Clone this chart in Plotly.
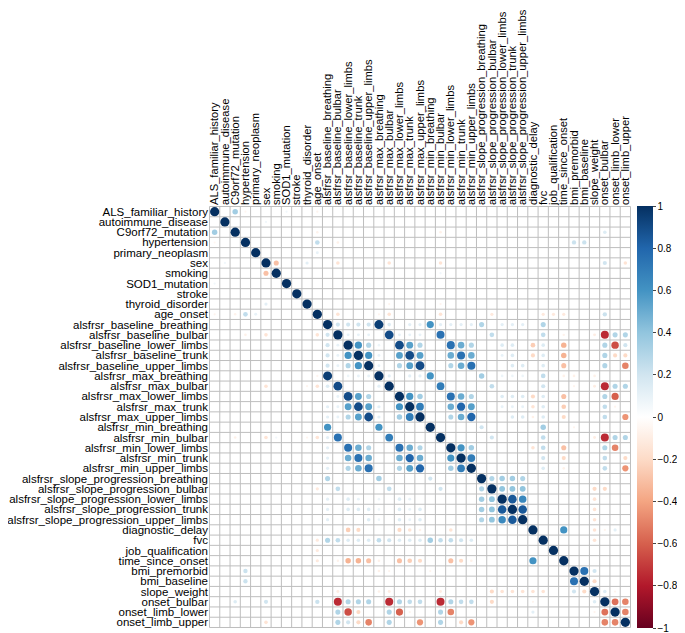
import numpy as np
import plotly.graph_objects as go

# Variables in the order they appear on both axes
VARIABLES = [
    "ALS_familiar_history", "autoimmune_disease", "C9orf72_mutation", "hypertension",
    "primary_neoplasm", "sex", "smoking", "SOD1_mutation", "stroke", "thyroid_disorder",
    "age_onset", "alsfrsr_baseline_breathing", "alsfrsr_baseline_bulbar",
    "alsfrsr_baseline_lower_limbs", "alsfrsr_baseline_trunk", "alsfrsr_baseline_upper_limbs",
    "alsfrsr_max_breathing", "alsfrsr_max_bulbar", "alsfrsr_max_lower_limbs",
    "alsfrsr_max_trunk", "alsfrsr_max_upper_limbs", "alsfrsr_min_breathing",
    "alsfrsr_min_bulbar", "alsfrsr_min_lower_limbs", "alsfrsr_min_trunk",
    "alsfrsr_min_upper_limbs", "alsfrsr_slope_progression_breathing",
    "alsfrsr_slope_progression_bulbar", "alsfrsr_slope_progression_lower_limbs",
    "alsfrsr_slope_progression_trunk", "alsfrsr_slope_progression_upper_limbs",
    "diagnostic_delay", "fvc", "job_qualification", "time_since_onset", "bmi_premorbid",
    "bmi_baseline", "slope_weight", "onset_bulbar", "onset_limb_lower", "onset_limb_upper",
]

# Off-diagonal correlations (everything else ~0, diagonal = 1)
CORR_PAIRS = [
    ("ALS_familiar_history", "C9orf72_mutation", 0.35),
    ("ALS_familiar_history", "hypertension", -0.05),
    ("ALS_familiar_history", "SOD1_mutation", 0.06),
    ("ALS_familiar_history", "age_onset", -0.06),
    ("autoimmune_disease", "sex", 0.06),
    ("C9orf72_mutation", "age_onset", -0.07),
    ("C9orf72_mutation", "alsfrsr_min_bulbar", -0.08),
    ("C9orf72_mutation", "onset_bulbar", 0.15),
    ("hypertension", "age_onset", 0.25),
    ("hypertension", "alsfrsr_baseline_bulbar", -0.08),
    ("hypertension", "bmi_premorbid", 0.22),
    ("hypertension", "bmi_baseline", 0.22),
    ("primary_neoplasm", "age_onset", 0.1),
    ("sex", "smoking", -0.3),
    ("sex", "thyroid_disorder", 0.12),
    ("sex", "alsfrsr_baseline_bulbar", -0.15),
    ("sex", "alsfrsr_max_bulbar", -0.15),
    ("sex", "alsfrsr_min_bulbar", -0.15),
    ("sex", "onset_bulbar", 0.2),
    ("sex", "onset_limb_upper", -0.15),
    ("smoking", "alsfrsr_min_bulbar", 0.06),
    ("thyroid_disorder", "alsfrsr_max_bulbar", -0.06),
    ("thyroid_disorder", "alsfrsr_min_bulbar", -0.06),
    ("age_onset", "alsfrsr_baseline_bulbar", -0.15),
    ("age_onset", "alsfrsr_max_breathing", -0.06),
    ("age_onset", "alsfrsr_max_bulbar", -0.15),
    ("age_onset", "alsfrsr_min_bulbar", -0.15),
    ("age_onset", "alsfrsr_slope_progression_bulbar", -0.12),
    ("age_onset", "fvc", -0.12),
    ("age_onset", "job_qualification", -0.12),
    ("age_onset", "time_since_onset", -0.12),
    ("age_onset", "onset_bulbar", 0.22),
    ("alsfrsr_baseline_breathing", "alsfrsr_baseline_bulbar", 0.2),
    ("alsfrsr_baseline_breathing", "alsfrsr_baseline_lower_limbs", 0.2),
    ("alsfrsr_baseline_breathing", "alsfrsr_baseline_trunk", 0.2),
    ("alsfrsr_baseline_breathing", "alsfrsr_baseline_upper_limbs", 0.2),
    ("alsfrsr_baseline_breathing", "alsfrsr_max_breathing", 0.95),
    ("alsfrsr_baseline_breathing", "alsfrsr_max_bulbar", 0.15),
    ("alsfrsr_baseline_breathing", "alsfrsr_max_trunk", 0.12),
    ("alsfrsr_baseline_breathing", "alsfrsr_max_upper_limbs", 0.12),
    ("alsfrsr_baseline_breathing", "alsfrsr_min_breathing", 0.6),
    ("alsfrsr_baseline_breathing", "alsfrsr_min_bulbar", 0.12),
    ("alsfrsr_baseline_breathing", "alsfrsr_min_lower_limbs", 0.12),
    ("alsfrsr_baseline_breathing", "alsfrsr_min_trunk", 0.12),
    ("alsfrsr_baseline_breathing", "alsfrsr_min_upper_limbs", 0.12),
    ("alsfrsr_baseline_breathing", "alsfrsr_slope_progression_breathing", 0.3),
    ("alsfrsr_baseline_breathing", "alsfrsr_slope_progression_lower_limbs", 0.12),
    ("alsfrsr_baseline_breathing", "alsfrsr_slope_progression_trunk", 0.12),
    ("alsfrsr_baseline_breathing", "alsfrsr_slope_progression_upper_limbs", 0.12),
    ("alsfrsr_baseline_breathing", "fvc", 0.3),
    ("alsfrsr_baseline_bulbar", "alsfrsr_baseline_lower_limbs", 0.1),
    ("alsfrsr_baseline_bulbar", "alsfrsr_baseline_trunk", 0.1),
    ("alsfrsr_baseline_bulbar", "alsfrsr_baseline_upper_limbs", 0.1),
    ("alsfrsr_baseline_bulbar", "alsfrsr_max_bulbar", 0.9),
    ("alsfrsr_baseline_bulbar", "alsfrsr_max_lower_limbs", 0.1),
    ("alsfrsr_baseline_bulbar", "alsfrsr_max_trunk", 0.1),
    ("alsfrsr_baseline_bulbar", "alsfrsr_max_upper_limbs", 0.1),
    ("alsfrsr_baseline_bulbar", "alsfrsr_min_bulbar", 0.75),
    ("alsfrsr_baseline_bulbar", "alsfrsr_slope_progression_bulbar", 0.25),
    ("alsfrsr_baseline_bulbar", "fvc", 0.25),
    ("alsfrsr_baseline_bulbar", "time_since_onset", -0.07),
    ("alsfrsr_baseline_bulbar", "slope_weight", -0.1),
    ("alsfrsr_baseline_bulbar", "onset_bulbar", -0.75),
    ("alsfrsr_baseline_bulbar", "onset_limb_lower", 0.3),
    ("alsfrsr_baseline_bulbar", "onset_limb_upper", 0.3),
    ("alsfrsr_baseline_lower_limbs", "alsfrsr_baseline_trunk", 0.6),
    ("alsfrsr_baseline_lower_limbs", "alsfrsr_baseline_upper_limbs", 0.3),
    ("alsfrsr_baseline_lower_limbs", "alsfrsr_max_breathing", 0.08),
    ("alsfrsr_baseline_lower_limbs", "alsfrsr_max_lower_limbs", 0.9),
    ("alsfrsr_baseline_lower_limbs", "alsfrsr_max_trunk", 0.55),
    ("alsfrsr_baseline_lower_limbs", "alsfrsr_max_upper_limbs", 0.3),
    ("alsfrsr_baseline_lower_limbs", "alsfrsr_min_lower_limbs", 0.75),
    ("alsfrsr_baseline_lower_limbs", "alsfrsr_min_trunk", 0.5),
    ("alsfrsr_baseline_lower_limbs", "alsfrsr_min_upper_limbs", 0.3),
    ("alsfrsr_baseline_lower_limbs", "alsfrsr_slope_progression_lower_limbs", 0.15),
    ("alsfrsr_baseline_lower_limbs", "alsfrsr_slope_progression_trunk", 0.15),
    ("alsfrsr_baseline_lower_limbs", "diagnostic_delay", -0.25),
    ("alsfrsr_baseline_lower_limbs", "fvc", 0.15),
    ("alsfrsr_baseline_lower_limbs", "time_since_onset", -0.35),
    ("alsfrsr_baseline_lower_limbs", "onset_bulbar", 0.3),
    ("alsfrsr_baseline_lower_limbs", "onset_limb_lower", -0.65),
    ("alsfrsr_baseline_lower_limbs", "onset_limb_upper", 0.2),
    ("alsfrsr_baseline_trunk", "alsfrsr_baseline_upper_limbs", 0.6),
    ("alsfrsr_baseline_trunk", "alsfrsr_max_breathing", 0.1),
    ("alsfrsr_baseline_trunk", "alsfrsr_max_lower_limbs", 0.55),
    ("alsfrsr_baseline_trunk", "alsfrsr_max_trunk", 0.9),
    ("alsfrsr_baseline_trunk", "alsfrsr_max_upper_limbs", 0.55),
    ("alsfrsr_baseline_trunk", "alsfrsr_min_lower_limbs", 0.5),
    ("alsfrsr_baseline_trunk", "alsfrsr_min_trunk", 0.75),
    ("alsfrsr_baseline_trunk", "alsfrsr_min_upper_limbs", 0.5),
    ("alsfrsr_baseline_trunk", "alsfrsr_slope_progression_lower_limbs", 0.1),
    ("alsfrsr_baseline_trunk", "alsfrsr_slope_progression_trunk", 0.15),
    ("alsfrsr_baseline_trunk", "diagnostic_delay", -0.2),
    ("alsfrsr_baseline_trunk", "fvc", 0.15),
    ("alsfrsr_baseline_trunk", "time_since_onset", -0.35),
    ("alsfrsr_baseline_trunk", "onset_bulbar", 0.3),
    ("alsfrsr_baseline_trunk", "onset_limb_lower", -0.2),
    ("alsfrsr_baseline_trunk", "onset_limb_upper", -0.2),
    ("alsfrsr_baseline_upper_limbs", "alsfrsr_max_breathing", 0.1),
    ("alsfrsr_baseline_upper_limbs", "alsfrsr_max_lower_limbs", 0.3),
    ("alsfrsr_baseline_upper_limbs", "alsfrsr_max_trunk", 0.55),
    ("alsfrsr_baseline_upper_limbs", "alsfrsr_max_upper_limbs", 0.9),
    ("alsfrsr_baseline_upper_limbs", "alsfrsr_min_lower_limbs", 0.3),
    ("alsfrsr_baseline_upper_limbs", "alsfrsr_min_trunk", 0.5),
    ("alsfrsr_baseline_upper_limbs", "alsfrsr_min_upper_limbs", 0.75),
    ("alsfrsr_baseline_upper_limbs", "alsfrsr_slope_progression_trunk", 0.15),
    ("alsfrsr_baseline_upper_limbs", "alsfrsr_slope_progression_upper_limbs", 0.15),
    ("alsfrsr_baseline_upper_limbs", "fvc", 0.15),
    ("alsfrsr_baseline_upper_limbs", "time_since_onset", -0.3),
    ("alsfrsr_baseline_upper_limbs", "onset_bulbar", 0.3),
    ("alsfrsr_baseline_upper_limbs", "onset_limb_upper", -0.5),
    ("alsfrsr_max_breathing", "alsfrsr_max_bulbar", 0.12),
    ("alsfrsr_max_breathing", "alsfrsr_max_trunk", 0.12),
    ("alsfrsr_max_breathing", "alsfrsr_max_upper_limbs", 0.12),
    ("alsfrsr_max_breathing", "alsfrsr_min_breathing", 0.6),
    ("alsfrsr_max_breathing", "alsfrsr_slope_progression_breathing", 0.35),
    ("alsfrsr_max_breathing", "alsfrsr_slope_progression_lower_limbs", 0.08),
    ("alsfrsr_max_breathing", "alsfrsr_slope_progression_trunk", 0.08),
    ("alsfrsr_max_breathing", "alsfrsr_slope_progression_upper_limbs", 0.08),
    ("alsfrsr_max_breathing", "fvc", 0.25),
    ("alsfrsr_max_breathing", "time_since_onset", -0.08),
    ("alsfrsr_max_breathing", "bmi_premorbid", -0.08),
    ("alsfrsr_max_breathing", "slope_weight", -0.08),
    ("alsfrsr_max_bulbar", "alsfrsr_min_bulbar", 0.7),
    ("alsfrsr_max_bulbar", "alsfrsr_slope_progression_bulbar", 0.25),
    ("alsfrsr_max_bulbar", "fvc", 0.2),
    ("alsfrsr_max_bulbar", "bmi_premorbid", -0.06),
    ("alsfrsr_max_bulbar", "slope_weight", -0.1),
    ("alsfrsr_max_bulbar", "onset_bulbar", -0.75),
    ("alsfrsr_max_bulbar", "onset_limb_lower", 0.3),
    ("alsfrsr_max_bulbar", "onset_limb_upper", 0.3),
    ("alsfrsr_max_lower_limbs", "alsfrsr_max_trunk", 0.6),
    ("alsfrsr_max_lower_limbs", "alsfrsr_max_upper_limbs", 0.35),
    ("alsfrsr_max_lower_limbs", "alsfrsr_min_lower_limbs", 0.75),
    ("alsfrsr_max_lower_limbs", "alsfrsr_min_trunk", 0.5),
    ("alsfrsr_max_lower_limbs", "alsfrsr_min_upper_limbs", 0.3),
    ("alsfrsr_max_lower_limbs", "alsfrsr_slope_progression_lower_limbs", 0.15),
    ("alsfrsr_max_lower_limbs", "alsfrsr_slope_progression_trunk", 0.15),
    ("alsfrsr_max_lower_limbs", "alsfrsr_slope_progression_upper_limbs", 0.15),
    ("alsfrsr_max_lower_limbs", "diagnostic_delay", -0.2),
    ("alsfrsr_max_lower_limbs", "fvc", 0.15),
    ("alsfrsr_max_lower_limbs", "time_since_onset", -0.3),
    ("alsfrsr_max_lower_limbs", "onset_bulbar", 0.3),
    ("alsfrsr_max_lower_limbs", "onset_limb_lower", -0.6),
    ("alsfrsr_max_trunk", "alsfrsr_max_upper_limbs", 0.7),
    ("alsfrsr_max_trunk", "alsfrsr_min_lower_limbs", 0.5),
    ("alsfrsr_max_trunk", "alsfrsr_min_trunk", 0.8),
    ("alsfrsr_max_trunk", "alsfrsr_min_upper_limbs", 0.55),
    ("alsfrsr_max_trunk", "alsfrsr_slope_progression_lower_limbs", 0.1),
    ("alsfrsr_max_trunk", "alsfrsr_slope_progression_trunk", 0.1),
    ("alsfrsr_max_trunk", "alsfrsr_slope_progression_upper_limbs", 0.1),
    ("alsfrsr_max_trunk", "diagnostic_delay", -0.15),
    ("alsfrsr_max_trunk", "fvc", 0.15),
    ("alsfrsr_max_trunk", "time_since_onset", -0.25),
    ("alsfrsr_max_trunk", "onset_bulbar", 0.25),
    ("alsfrsr_max_trunk", "onset_limb_lower", -0.06),
    ("alsfrsr_max_upper_limbs", "alsfrsr_min_lower_limbs", 0.3),
    ("alsfrsr_max_upper_limbs", "alsfrsr_min_trunk", 0.5),
    ("alsfrsr_max_upper_limbs", "alsfrsr_min_upper_limbs", 0.8),
    ("alsfrsr_max_upper_limbs", "alsfrsr_slope_progression_trunk", 0.15),
    ("alsfrsr_max_upper_limbs", "alsfrsr_slope_progression_upper_limbs", 0.15),
    ("alsfrsr_max_upper_limbs", "diagnostic_delay", -0.08),
    ("alsfrsr_max_upper_limbs", "fvc", 0.15),
    ("alsfrsr_max_upper_limbs", "time_since_onset", -0.2),
    ("alsfrsr_max_upper_limbs", "onset_bulbar", 0.25),
    ("alsfrsr_max_upper_limbs", "onset_limb_upper", -0.45),
    ("alsfrsr_min_breathing", "alsfrsr_slope_progression_breathing", 0.2),
    ("alsfrsr_min_breathing", "fvc", 0.35),
    ("alsfrsr_min_breathing", "bmi_premorbid", -0.06),
    ("alsfrsr_min_bulbar", "alsfrsr_slope_progression_bulbar", 0.2),
    ("alsfrsr_min_bulbar", "fvc", 0.25),
    ("alsfrsr_min_bulbar", "slope_weight", -0.1),
    ("alsfrsr_min_bulbar", "onset_bulbar", -0.75),
    ("alsfrsr_min_bulbar", "onset_limb_lower", 0.3),
    ("alsfrsr_min_bulbar", "onset_limb_upper", 0.3),
    ("alsfrsr_min_lower_limbs", "alsfrsr_min_trunk", 0.6),
    ("alsfrsr_min_lower_limbs", "alsfrsr_min_upper_limbs", 0.35),
    ("alsfrsr_min_lower_limbs", "diagnostic_delay", -0.15),
    ("alsfrsr_min_lower_limbs", "fvc", 0.25),
    ("alsfrsr_min_lower_limbs", "time_since_onset", -0.3),
    ("alsfrsr_min_lower_limbs", "onset_bulbar", 0.3),
    ("alsfrsr_min_lower_limbs", "onset_limb_lower", -0.5),
    ("alsfrsr_min_trunk", "alsfrsr_min_upper_limbs", 0.7),
    ("alsfrsr_min_trunk", "fvc", 0.2),
    ("alsfrsr_min_trunk", "time_since_onset", -0.2),
    ("alsfrsr_min_trunk", "onset_bulbar", 0.25),
    ("alsfrsr_min_trunk", "onset_limb_upper", -0.2),
    ("alsfrsr_min_upper_limbs", "fvc", 0.15),
    ("alsfrsr_min_upper_limbs", "time_since_onset", -0.08),
    ("alsfrsr_min_upper_limbs", "onset_bulbar", 0.25),
    ("alsfrsr_min_upper_limbs", "onset_limb_upper", -0.45),
    ("alsfrsr_slope_progression_breathing", "alsfrsr_slope_progression_bulbar", 0.3),
    ("alsfrsr_slope_progression_breathing", "alsfrsr_slope_progression_lower_limbs", 0.35),
    ("alsfrsr_slope_progression_breathing", "alsfrsr_slope_progression_trunk", 0.35),
    ("alsfrsr_slope_progression_breathing", "alsfrsr_slope_progression_upper_limbs", 0.3),
    ("alsfrsr_slope_progression_bulbar", "alsfrsr_slope_progression_lower_limbs", 0.4),
    ("alsfrsr_slope_progression_bulbar", "alsfrsr_slope_progression_trunk", 0.4),
    ("alsfrsr_slope_progression_bulbar", "alsfrsr_slope_progression_upper_limbs", 0.4),
    ("alsfrsr_slope_progression_bulbar", "slope_weight", -0.2),
    ("alsfrsr_slope_progression_bulbar", "onset_bulbar", -0.2),
    ("alsfrsr_slope_progression_lower_limbs", "alsfrsr_slope_progression_trunk", 0.85),
    ("alsfrsr_slope_progression_lower_limbs", "alsfrsr_slope_progression_upper_limbs", 0.65),
    ("alsfrsr_slope_progression_lower_limbs", "slope_weight", -0.15),
    ("alsfrsr_slope_progression_trunk", "alsfrsr_slope_progression_upper_limbs", 0.85),
    ("alsfrsr_slope_progression_trunk", "slope_weight", -0.15),
    ("alsfrsr_slope_progression_upper_limbs", "slope_weight", -0.15),
    ("diagnostic_delay", "time_since_onset", 0.6),
    ("diagnostic_delay", "slope_weight", -0.15),
    ("diagnostic_delay", "onset_bulbar", -0.06),
    ("diagnostic_delay", "onset_limb_lower", 0.12),
    ("fvc", "slope_weight", -0.15),
    ("bmi_premorbid", "bmi_baseline", 0.75),
    ("bmi_premorbid", "slope_weight", 0.2),
    ("bmi_baseline", "slope_weight", -0.2),
    ("slope_weight", "onset_bulbar", 0.15),
    ("slope_weight", "onset_limb_lower", -0.06),
    ("onset_bulbar", "onset_limb_lower", -0.55),
    ("onset_bulbar", "onset_limb_upper", -0.5),
    ("onset_limb_lower", "onset_limb_upper", -0.5),
]

COLORBAR_TICKS = [-1, -0.8, -0.6, -0.4, -0.2, 0, 0.2, 0.4, 0.6, 0.8, 1]

# corrplot style RdBu palette
RDBU = ["#67001F", "#B2182B", "#D6604D", "#F4A582", "#FDDBC7", "#FFFFFF",
        "#D1E5F0", "#92C5DE", "#4393C3", "#2166AC", "#053061"]

n = len(VARIABLES)
pos = {v: k for k, v in enumerate(VARIABLES)}
corr = np.eye(n)
for a, b, r in CORR_PAIRS:
    corr[pos[a], pos[b]] = r
    corr[pos[b], pos[a]] = r

rows, cols = np.meshgrid(np.arange(n), np.arange(n), indexing="ij")
vals = corr.ravel()

# circle area proportional to |r| like corrplot
cell_px = 422 / n
sizes = 0.9 * cell_px * np.sqrt(np.abs(vals))

colorscale = [[k / (len(RDBU) - 1), c] for k, c in enumerate(RDBU)]

fig = go.Figure(go.Scatter(
    x=cols.ravel(),
    y=rows.ravel(),
    mode="markers",
    marker=dict(
        size=sizes,
        color=vals,
        colorscale=colorscale,
        cmin=-1, cmax=1,
        line=dict(width=0),
        opacity=1,
        colorbar=dict(
            x=1.015, xanchor="left", xpad=0,
            y=0.5, yanchor="middle", len=1.0, lenmode="fraction",
            ypad=0, thickness=16, outlinewidth=0,
            tickvals=COLORBAR_TICKS,
            ticktext=[str(t).replace("-", "\u2212") for t in COLORBAR_TICKS],
            ticks="outside", ticklen=3, tickcolor="#444444",
            tickfont=dict(size=10, color="black"),
            ticklabeloverflow="allow",
        ),
    ),
    text=[f"{VARIABLES[i]} / {VARIABLES[j]}" for i, j in zip(rows.ravel(), cols.ravel())],
    hovertemplate="%{text}<br>r = %{marker.color:.2f}<extra></extra>",
))

# cell grid
grid = []
for k in range(n + 1):
    grid.append(dict(type="line", xref="x", yref="y", x0=k - 0.5, x1=k - 0.5,
                     y0=-0.5, y1=n - 0.5, line=dict(color="#BEBEBE", width=1), layer="below"))
    grid.append(dict(type="line", xref="x", yref="y", y0=k - 0.5, y1=k - 0.5,
                     x0=-0.5, x1=n - 0.5, line=dict(color="#BEBEBE", width=1), layer="below"))

# the page body adds an 8px margin, so the figure is sized to fit inside it
fig.update_layout(
    width=677, height=625,
    margin=dict(l=201, r=54, t=198, b=5, autoexpand=False),
    paper_bgcolor="white", plot_bgcolor="white",
    font=dict(family="Liberation Sans, Arial, sans-serif", size=11.5, color="black"),
    shapes=grid,
    showlegend=False,
    xaxis=dict(
        range=[-0.55, n - 0.45], side="top",
        tickmode="array", tickvals=list(range(n)), ticktext=VARIABLES,
        tickangle=-90, showgrid=False, zeroline=False, ticks="",
        tickfont=dict(size=11.2),
        fixedrange=True,
    ),
    yaxis=dict(
        range=[n - 0.45, -0.55],
        tickmode="array", tickvals=list(range(n)), ticktext=VARIABLES,
        showgrid=False, zeroline=False, ticks="",
        fixedrange=True,
    ),
)

fig.write_html("out.html")
